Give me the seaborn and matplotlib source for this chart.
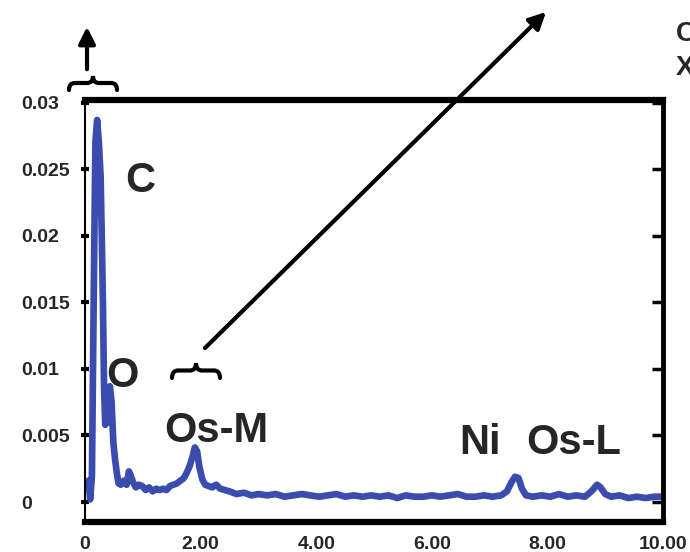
import matplotlib
matplotlib.use("Agg")
import matplotlib.pyplot as plt
import seaborn as sns
from matplotlib.path import Path
from matplotlib.patches import PathPatch
from matplotlib import markers

# Spectre EDS (énergie en keV, intensité)
energie = [0.00, 0.03, 0.06, 0.09, 0.12, 0.15, 0.18, 0.21, 0.24, 0.27,
           0.29, 0.31, 0.33, 0.35, 0.38, 0.40, 0.43, 0.46, 0.49, 0.52,
           0.55, 0.58, 0.62, 0.67, 0.72, 0.76, 0.79, 0.83, 0.88, 0.93,
           0.99, 1.05, 1.11, 1.17, 1.23, 1.29, 1.35, 1.41, 1.47, 1.53,
           1.59, 1.65, 1.71, 1.76, 1.81, 1.86, 1.90, 1.94, 1.98, 2.03,
           2.08, 2.14, 2.20, 2.27, 2.34, 2.42, 2.50, 2.62, 2.75, 2.88,
           3.00, 3.15, 3.30, 3.45, 3.60, 3.75, 3.90, 4.05, 4.20, 4.35,
           4.50, 4.65, 4.80, 4.95, 5.10, 5.25, 5.40, 5.55, 5.70, 5.85,
           6.00, 6.15, 6.30, 6.45, 6.60, 6.75, 6.90, 7.05, 7.20, 7.30,
           7.38, 7.44, 7.50, 7.56, 7.63, 7.75, 7.90, 8.05, 8.20, 8.35,
           8.50, 8.65, 8.76, 8.86, 8.92, 9.00, 9.10, 9.25, 9.40, 9.55,
           9.70, 9.85, 10.00]
intensite = [0.0014, 0.0012, 0.0016, 0.0002, 0.0020, 0.0150, 0.0270, 0.0287, 0.0270, 0.0245,
             0.0200, 0.0150, 0.0085, 0.0058, 0.0068, 0.0060, 0.0087, 0.0075, 0.0045, 0.0032,
             0.0022, 0.0014, 0.0013, 0.0016, 0.0013, 0.0023, 0.0020, 0.0015, 0.0011, 0.0013,
             0.0012, 0.0009, 0.0011, 0.0008, 0.0010, 0.0009, 0.0010, 0.0009, 0.0012, 0.0013,
             0.0014, 0.0016, 0.0018, 0.0022, 0.0027, 0.0034, 0.0041, 0.0038, 0.0026, 0.0017,
             0.0013, 0.0012, 0.0011, 0.0013, 0.0010, 0.0009, 0.0008, 0.0006, 0.0007, 0.0005,
             0.0006, 0.0005, 0.0006, 0.0004, 0.0005, 0.0006, 0.0005, 0.0004, 0.0005, 0.0006,
             0.0004, 0.0005, 0.0004, 0.0005, 0.0004, 0.0005, 0.0003, 0.0005, 0.0004, 0.0004,
             0.0005, 0.0004, 0.0005, 0.0006, 0.0004, 0.0004, 0.0005, 0.0004, 0.0005, 0.0008,
             0.0015, 0.0019, 0.0018, 0.0010, 0.0005, 0.0004, 0.0005, 0.0004, 0.0006, 0.0004,
             0.0005, 0.0004, 0.0008, 0.0013, 0.0011, 0.0006, 0.0004, 0.0005, 0.0003, 0.0004,
             0.0003, 0.0004, 0.0004]

xticks = [0, 2, 4, 6, 8, 10]
xtick_labels = ["0", "2.00", "4.00", "6.00", "8.00", "10.00"]
yticks = [0, 0.005, 0.01, 0.015, 0.02, 0.025, 0.03]
ytick_labels = ["0", "0.005", "0.01", "0.015", "0.02", "0.025", "0.03"]

# Étiquettes des pics : (texte, énergie, intensité)
pics = [("C", 0.95, 0.0241), ("O", 0.64, 0.0095), ("Os-M", 2.28, 0.0053),
        ("Ni", 6.83, 0.0044), ("Os-L", 8.46, 0.0044)]

sns.set_style("white")
plt.rcParams["font.family"] = ["Liberation Sans", "DejaVu Sans"]
plt.rcParams["font.weight"] = "bold"

fig = plt.figure(figsize=(6.9, 5.52), dpi=100)
ax = fig.add_axes([85 / 690, 30 / 552, 578 / 690, 422 / 552])

sns.lineplot(x=energie, y=intensite, ax=ax, color="#3a4cae", linewidth=4.8)

ax.set_xlim(0, 10)
ax.set_ylim(-0.0015, 0.0302)
ax.set_xticks(xticks)
ax.set_xticklabels(xtick_labels, fontsize=14, fontweight="bold")
ax.set_yticks(yticks)
ax.set_yticklabels(ytick_labels, fontsize=14, fontweight="bold")
for lab in ax.get_yticklabels():
    lab.set_horizontalalignment("left")

ax.tick_params(axis="x", length=0, pad=10)
ax.tick_params(axis="y", direction="in", left=True, right=True, length=8,
               width=2.5, color="black", pad=46)
# graduations gauches centrées sur l'axe
for t in ax.yaxis.get_major_ticks():
    t.tick1line.set_marker("_")
    t.tick1line.set_markersize(6)
    t.tick1line.set_markeredgewidth(3)
    t.tick2line.set_marker(markers.TICKLEFT)

for cote, lw in [("top", 4.5), ("bottom", 4.5), ("right", 3.5), ("left", 1.5)]:
    ax.spines[cote].set_visible(True)
    ax.spines[cote].set_linewidth(lw)
    ax.spines[cote].set_color("black")

for texte, xe, yi in pics:
    ax.text(xe, yi, texte, fontsize=30, fontweight="bold", ha="center", va="center")


def px(x, y):
    # coordonnées pixels (origine en haut à gauche) -> fraction de figure
    return (x / 690, 1 - y / 552)


def accolade(x0, x1, y_bas, h):
    xm = (x0 + x1) / 2
    ym = y_bas - h * 0.5
    r = 6
    pts = [(x0, y_bas), (x0, ym), (x0 + r, ym), (xm - r, ym), (xm, ym), (xm, y_bas - h),
           (xm, ym), (xm + r, ym), (x1 - r, ym), (x1, ym), (x1, y_bas)]
    codes = [Path.MOVETO, Path.CURVE3, Path.CURVE3, Path.LINETO, Path.CURVE3, Path.CURVE3,
             Path.CURVE3, Path.CURVE3, Path.LINETO, Path.CURVE3, Path.CURVE3]
    chemin = Path([px(*p) for p in pts], codes)
    fig.add_artist(PathPatch(chemin, transform=fig.transFigure, fill=False,
                             lw=3, edgecolor="black", capstyle="round"))


accolade(69, 117, 90, 14)
accolade(172, 220, 378, 15)

fleche = dict(arrowstyle="-|>", lw=3, color="black", mutation_scale=25)
ax.annotate("", xy=px(87, 24), xytext=px(87, 72), xycoords="figure fraction",
            textcoords="figure fraction", arrowprops=fleche, annotation_clip=False)
ax.annotate("", xy=px(548, 10), xytext=px(203, 350), xycoords="figure fraction",
            textcoords="figure fraction", arrowprops=fleche, annotation_clip=False)

# lettres coupées par le bord droit, comme sur l'original
fig.text(*px(676, 34), "C", fontsize=20, fontweight="bold", ha="left", va="center")
fig.text(*px(676, 68), "X", fontsize=20, fontweight="bold", ha="left", va="center")

fig.savefig("out.png", dpi=100)
